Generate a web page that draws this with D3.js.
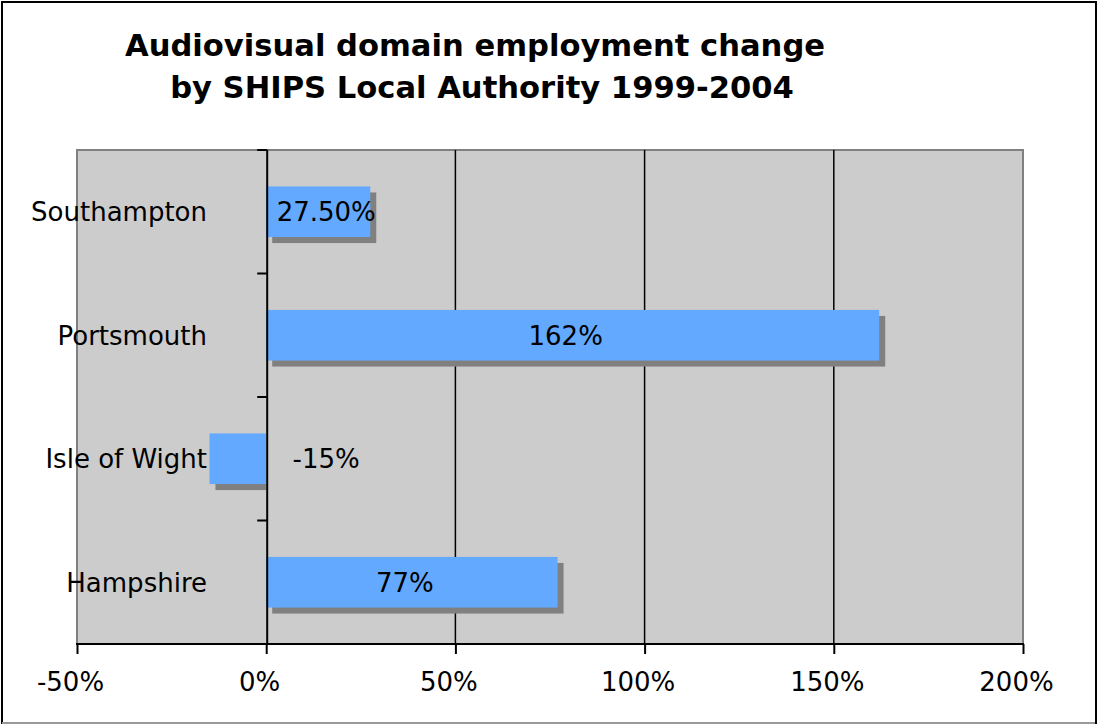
<!DOCTYPE html>
<html>
<head>
<meta charset="utf-8">
<script src="https://cdn.jsdelivr.net/npm/d3@7"></script>
<style>
  body { margin: 0; background: #fff; }
  svg text { font-family: "DejaVu Sans", Verdana, sans-serif; fill: #000; }
</style>
</head>
<body>
<div id="chart"></div>
<script>
// data
const categories = ["Southampton", "Portsmouth", "Isle of Wight", "Hampshire"];
const values = [27.5, 162, -15, 77];
const valueLabels = ["27.50%", "162%", "-15%", "77%"];
const xTicks = [-50, 0, 50, 100, 150, 200];
const titleLines = ["Audiovisual domain employment change", "by SHIPS Local Authority 1999-2004"];

const W = 1098, H = 724;
const plot = { left: 77, right: 1023, top: 150, bottom: 644 };

const svg = d3.select("#chart").append("svg")
    .attr("width", W)
    .attr("height", H);

// outer frame
svg.append("rect")
    .attr("x", 2).attr("y", 2)
    .attr("width", W - 4).attr("height", H - 3)
    .attr("fill", "#fff")
    .attr("stroke", "#000")
    .attr("stroke-width", 2);
svg.append("line")
    .attr("x1", 2).attr("x2", W - 3)
    .attr("y1", H - 1).attr("y2", H - 1)
    .attr("stroke", "#999").attr("stroke-width", 2);

// title
svg.append("text")
    .attr("x", 475).attr("y", 56)
    .attr("text-anchor", "middle")
    .attr("font-size", 30.6)
    .attr("font-weight", "bold")
    .text(titleLines[0]);
svg.append("text")
    .attr("x", 482).attr("y", 98)
    .attr("text-anchor", "middle")
    .attr("font-size", 30.6)
    .attr("font-weight", "bold")
    .text(titleLines[1]);

const x = d3.scaleLinear()
    .domain([-50, 200])
    .range([plot.left, plot.right]);

const y = d3.scaleBand()
    .domain(categories)
    .range([plot.top, plot.bottom])
    .paddingInner(0.59)
    .paddingOuter(0.295);

// plot area
svg.append("rect")
    .attr("x", plot.left).attr("y", plot.top)
    .attr("width", plot.right - plot.left)
    .attr("height", plot.bottom - plot.top)
    .attr("fill", "#cccccc")
    .attr("stroke", "#808080")
    .attr("stroke-width", 2);

// vertical gridlines
svg.selectAll("line.grid")
    .data(xTicks.filter(t => t > 0 && t < 200))
    .enter()
    .append("line")
    .attr("class", "grid")
    .attr("x1", d => x(d)).attr("x2", d => x(d))
    .attr("y1", plot.top).attr("y2", plot.bottom)
    .attr("stroke", "#000")
    .attr("stroke-width", 1.5);

// shadows then bars
const barH = y.bandwidth();
svg.selectAll("rect.shadow")
    .data(values)
    .enter()
    .append("rect")
    .attr("class", "shadow")
    .attr("x", d => Math.min(x(d), x(0)) + 6)
    .attr("y", (d, i) => y(categories[i]) + 6)
    .attr("width", d => Math.max(0, Math.abs(x(d) - x(0)) - (d < 0 ? 6 : 0)))
    .attr("height", barH)
    .attr("fill", "#808080");

svg.selectAll("rect.bar")
    .data(values)
    .enter()
    .append("rect")
    .attr("class", "bar")
    .attr("x", d => Math.min(x(d), x(0)))
    .attr("y", (d, i) => y(categories[i]))
    .attr("width", d => Math.abs(x(d) - x(0)))
    .attr("height", barH)
    .attr("fill", "#63a9ff");

// category axis at zero
const yAxis = svg.append("g")
    .attr("transform", `translate(${x(0) + 1},0)`);
yAxis.append("line")
    .attr("x1", 0).attr("x2", 0)
    .attr("y1", plot.top).attr("y2", plot.bottom)
    .attr("stroke", "#000").attr("stroke-width", 2);
const bounds = d3.range(categories.length).map(i => plot.top + i * y.step());
yAxis.selectAll("line.tick")
    .data(bounds)
    .enter()
    .append("line")
    .attr("class", "tick")
    .attr("x1", -10).attr("x2", 0)
    .attr("y1", d => d).attr("y2", d => d)
    .attr("stroke", "#000").attr("stroke-width", 2);

// category labels
svg.selectAll("text.cat")
    .data(categories)
    .enter()
    .append("text")
    .attr("class", "cat")
    .attr("x", 207)
    .attr("y", d => y(d) + barH / 2)
    .attr("dy", "0.36em")
    .attr("text-anchor", "end")
    .attr("font-size", 26)
    .text(d => d);

// value axis
const xAxis = svg.append("g")
    .attr("transform", `translate(0,${plot.bottom})`)
    .call(d3.axisBottom(x).tickValues(xTicks).tickSize(10).tickFormat(d => d + "%"));
xAxis.select(".domain").remove();
xAxis.append("line")
    .attr("x1", plot.left - 1).attr("x2", plot.right + 1)
    .attr("stroke", "#000").attr("stroke-width", 2);
xAxis.selectAll(".tick line").attr("stroke", "#000").attr("stroke-width", 2);
xAxis.selectAll(".tick text")
    .attr("font-size", 26)
    .attr("font-family", "DejaVu Sans, Verdana, sans-serif")
    .attr("fill", "#000")
    .attr("x", -7)
    .attr("y", 29)
    .attr("dy", "0.71em");

// data labels
svg.selectAll("text.val")
    .data(values)
    .enter()
    .append("text")
    .attr("class", "val")
    .attr("x", d => Math.max(x(d / 2) - 7, x(0) + 60))
    .attr("y", (d, i) => y(categories[i]) + barH / 2)
    .attr("dy", "0.36em")
    .attr("text-anchor", "middle")
    .attr("font-size", 26)
    .text((d, i) => valueLabels[i]);
</script>
</body>
</html>
